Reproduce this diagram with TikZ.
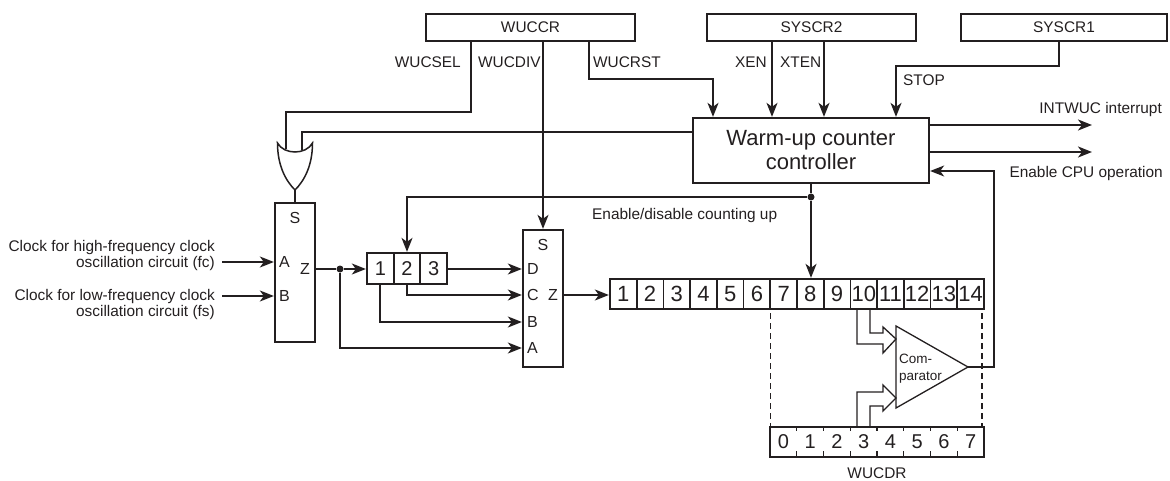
\documentclass[tikz,border=0pt]{standalone}
\usepackage{fontspec}
\setmainfont{Liberation Sans}
\usetikzlibrary{arrows.meta,calc}
\definecolor{ink}{RGB}{35,31,32}
\begin{document}
\begin{tikzpicture}[x=1pt,y=-1pt,color=ink,
  box/.style={draw,line width=2.3pt,inner sep=0pt},
  wire/.style={line width=1.8pt},
  arr/.style={wire,-{Stealth[length=14pt,width=11pt,inset=4pt]}},
  fine/.style={line width=1.3pt},
  lab/.style={font=\fontsize{15.4}{16}\selectfont,inner sep=0pt},
  dig/.style={font=\fontsize{20}{20}\selectfont,inner sep=0pt},
  bigdig/.style={font=\fontsize{22}{22}\selectfont,inner sep=0pt},
  muxlet/.style={font=\fontsize{16}{16}\selectfont,inner sep=0pt},
  jdot/.style={circle,fill,inner sep=0pt,minimum size=7pt},
]
\useasboundingbox (0,0) rectangle (1170,481);

% registers
\node[box,lab,minimum width=209pt,minimum height=27pt] (wuccr) at (530.5,27.5) {WUCCR};
\node[box,lab,minimum width=209pt,minimum height=27pt] (syscr2) at (811.5,27.5) {SYSCR2};
\node[box,lab,minimum width=206pt,minimum height=27pt] (syscr1) at (1064,27.5) {SYSCR1};
\node[box,minimum width=236pt,minimum height=65pt,align=center,font=\fontsize{22}{24}\selectfont] (ctrl) at (811,150.5) {Warm-up counter\\controller};

% multiplexers and registers
\node[box,minimum width=40pt,minimum height=139pt] (mux1) at (295,272.5) {};
\node[box,minimum width=40pt,minimum height=137pt] (mux2) at (543,298.5) {};
\node[box,minimum width=80pt,minimum height=31pt] (sreg) at (407,268.5) {};
\node[box,minimum width=374pt,minimum height=30pt] (cnt) at (797,294) {};
\node[box,minimum width=214pt,minimum height=30pt] (dr) at (877,442) {};

% shift register cells
\foreach \i in {1,2} \draw[wire] ({367+26.667*\i},253) -- ({367+26.667*\i},284);
\foreach \i in {1,2,3} \node[dig] at ({367+26.667*\i-13.333},268.5) {\i};
% counter cells
\foreach \i in {1,...,13} \draw[wire] ({610+26.714*\i},279) -- ({610+26.714*\i},309);
\foreach \i in {1,...,14} \node[bigdig] at ({610+26.714*\i-13.357},294) {\i};
% WUCDR cells
\foreach \i in {1,...,7} {
  \draw[line width=1.1pt] ({770+26.75*\i},427) -- ({770+26.75*\i},431);
  \draw[line width=1.1pt] ({770+26.75*\i},451) -- ({770+26.75*\i},457);
}
\foreach \i in {0,...,7} \node[dig] at ({770+26.75*\i+13.375},442) {\i};
\node[lab] (wucdrl) at (877,473) {WUCDR};

% mux letters
\node[muxlet] at (295,218) {S};
\node[muxlet,anchor=west] at (279,262) {A};
\node[muxlet,anchor=west] at (279,296) {B};
\node[muxlet] at (305,269) {Z};
\node[muxlet] at (543,245) {S};
\node[muxlet,anchor=west] at (527,269) {D};
\node[muxlet,anchor=west] at (527,295) {C};
\node[muxlet,anchor=west] at (527,322) {B};
\node[muxlet,anchor=west] at (527,348) {A};
\node[muxlet] at (553,295) {Z};

% OR gate
\draw[line width=1.5pt] (277.5,143) .. controls (284,155) and (306,155) .. (312.5,143)
  .. controls (312.5,166) and (304,181) .. (295,190)
  .. controls (286,181) and (277.5,166) .. (277.5,143) -- cycle;
\coordinate (gout) at (295,190);
\coordinate (gin1) at (286,149.5);
\coordinate (gin2) at (302,150.5);
\draw[wire] (gout) -- (mux1.north);

% WUCCR outputs
\coordinate (selb) at (471,112);
\draw[wire] (wuccr.south -| selb) -- (selb) -| (gin1);
\draw[arr] (wuccr.south -| mux2.north) -- (mux2.north);
\coordinate (rstb) at (589,79);
\coordinate (rstx) at (713,100);
\draw[arr] (wuccr.south -| rstb) -- (rstb) -| (ctrl.north -| rstx);
\node[lab,anchor=base east] at (461,67.5) {WUCSEL};
\node[lab,anchor=base west] at (478,67.5) {WUCDIV};
\node[lab,anchor=base west] at (593,67.5) {WUCRST};

% SYSCR2 outputs
\coordinate (xenx) at (772,100);
\coordinate (xtenx) at (824,100);
\draw[arr] (syscr2.south -| xenx) -- (ctrl.north -| xenx);
\draw[arr] (syscr2.south -| xtenx) -- (ctrl.north -| xtenx);
\node[lab,anchor=base east] at (767,67.5) {XEN};
\node[lab,anchor=base west] at (780,67.5) {XTEN};

% SYSCR1 output
\coordinate (stopb) at (1059,66);
\coordinate (stopx) at (896,100);
\draw[arr] (syscr1.south -| stopb) -- (stopb) -| (ctrl.north -| stopx);
\node[lab,anchor=base west] at (903,85.5) {STOP};

% controller to OR gate
\coordinate (ctlb) at (700,132);
\draw[wire] (ctrl.west |- ctlb) -| (gin2);

% controller outputs
\coordinate (o1) at (1092,125);
\coordinate (o2) at (1092,152);
\draw[arr] (ctrl.east |- o1) -- (o1);
\draw[arr] (ctrl.east |- o2) -- (o2);
\node[lab,anchor=base east] at (1162,113.5) {INTWUC interrupt};
\node[lab,anchor=base east] at (1163,177.5) {Enable CPU operation};

% enable / disable
\node[jdot] (ej) at (811,197) {};
\draw[wire] (ctrl.south) -- (ej);
\draw[arr] (ej) -- (cnt.north -| ej);
\draw[arr] (ej) -| (sreg.north);
\node[lab,anchor=base west] at (592,220) {Enable/disable counting up};

% clock inputs
\coordinate (inA) at (222,262);
\coordinate (inB) at (222,296);
\draw[arr] (inA) -- (mux1.west |- inA);
\draw[arr] (inB) -- (mux1.west |- inB);
\node[lab,anchor=east,align=right] at (215,256) {Clock for high-frequency clock\\oscillation circuit (fc)};
\node[lab,anchor=east,align=right] at (215,305) {Clock for low-frequency clock\\oscillation circuit (fs)};

% mux1 to shift register and mux2
\node[jdot] (zj) at (340,269) {};
\draw[wire] (mux1.east |- zj) -- (zj);
\draw[arr] (zj) -- (sreg.west |- zj);
\coordinate (rowD) at (450,269);
\coordinate (rowC) at (450,295);
\coordinate (rowB) at (450,322);
\coordinate (rowA) at (450,348);
\coordinate (c1) at (380.3,284);
\draw[arr] (sreg.east |- rowD) -- (mux2.west |- rowD);
\draw[arr] (sreg.south) |- (mux2.west |- rowC);
\draw[arr] (c1) |- (mux2.west |- rowB);
\draw[arr] (zj) |- (mux2.west |- rowA);
\draw[arr] (mux2.east |- rowC) -- (cnt.west |- rowC);

% dashed guides
\coordinate (dl) at (770.5,310);
\coordinate (dr2) at (982,310);
\draw[line width=1.1pt,dash pattern=on 6pt off 4pt,dash phase=-3pt] (dl) -- (dl |- dr.north);
\draw[line width=1.1pt,dash pattern=on 6pt off 4pt,dash phase=-3pt] (dr2) -- (dr2 |- dr.north);

% comparator
\coordinate (cmpin1) at (896,339);
\coordinate (cmpin2) at (896,398);
\coordinate (cmpout) at (968,367);
\draw[fine] (896,326) -- (cmpout) -- (896,408) -- cycle;
\node[font=\fontsize{13.5}{17}\selectfont,inner sep=0pt,anchor=west,align=left] (cmpl) at (899,369) {Com-\\parator};
% bus arrows
\draw[fine] (857,310) |- (883,344) -- (883,353) -- (cmpin1) -- (883,327) -- (883,333) -| (870,310);
\draw[fine] (857,426) |- (883,392) -- (883,385) -- (cmpin2) -- (883,411) -- (883,406) -| (870,426);
% feedback
\coordinate (fbx) at (994,171);
\draw[line width=1.4pt,-{Stealth[length=14pt,width=11pt,inset=4pt]}] (cmpout) -| (fbx) -- (ctrl.east |- fbx);
\end{tikzpicture}
\end{document}
